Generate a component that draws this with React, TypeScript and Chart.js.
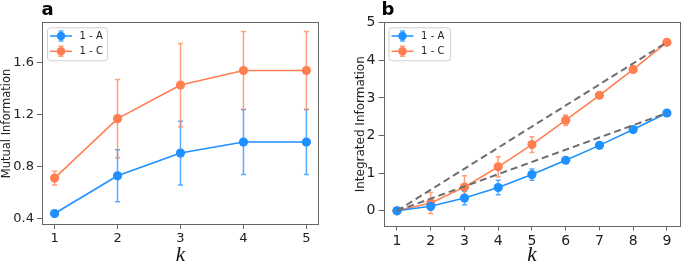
import React, { useEffect, useRef } from "react";
import { Chart, registerables } from "chart.js";
Chart.register(...registerables);

// ---- data ----
const kA = [1, 2, 3, 4, 5];
const miA = [0.44, 0.73, 0.905, 0.99, 0.99];
const miAErr = [0.01, 0.2, 0.245, 0.25, 0.25];
const miC = [0.713, 1.17, 1.428, 1.54, 1.54];
const miCErr = [0.053, 0.3, 0.32, 0.3, 0.3];
const miTicks = [0.4, 0.8, 1.2, 1.6];

const kB = [1, 2, 3, 4, 5, 6, 7, 8, 9];
const iiA = [0, 0.12, 0.34, 0.62, 0.965, 1.345, 1.74, 2.16, 2.6];
const iiAErr = [0.01, 0.1, 0.18, 0.19, 0.15, 0.06, 0.04, 0.03, 0.03];
const iiC = [0, 0.21, 0.63, 1.17, 1.76, 2.41, 3.07, 3.76, 4.48];
const iiCErr = [0.01, 0.28, 0.3, 0.27, 0.21, 0.14, 0.05, 0.04, 0.03];
const iiTicks = [0, 1, 2, 3, 4, 5];
const refC = [{ x: 1, y: 0 }, { x: 9, y: 4.48 }];
const refA = [{ x: 1, y: 0 }, { x: 9, y: 2.6 }];

const labelA = "1 - A";
const labelC = "1 - C";

const BLUE = "#1E90FF";
const ORANGE = "#FF7F50";
const FRAME = "#666666";
const FONT = "'DejaVu Sans', sans-serif";

function hexA(hex: string, a: number) {
  const n = parseInt(hex.slice(1), 16);
  return `rgba(${(n >> 16) & 255},${(n >> 8) & 255},${n & 255},${a})`;
}

const errorBarPlugin = {
  id: "errorBars",
  beforeDatasetsDraw(chart: any) {
    const { ctx } = chart;
    const ys = chart.scales.y;
    chart.data.datasets.forEach((ds: any, i: number) => {
      if (!ds.errors) return;
      const meta = chart.getDatasetMeta(i);
      ctx.save();
      ctx.strokeStyle = hexA(ds.borderColor, 0.75);
      ctx.lineWidth = 1.5;
      meta.data.forEach((pt: any, j: number) => {
        const v = ds.data[j].y;
        const e = ds.errors[j];
        const x = pt.x;
        const y1 = ys.getPixelForValue(v + e);
        const y2 = ys.getPixelForValue(v - e);
        ctx.beginPath();
        ctx.moveTo(x, y1);
        ctx.lineTo(x, y2);
        ctx.moveTo(x - 2.5, y1);
        ctx.lineTo(x + 2.5, y1);
        ctx.moveTo(x - 2.5, y2);
        ctx.lineTo(x + 2.5, y2);
        ctx.stroke();
      });
      ctx.restore();
    });
  },
};

const framePlugin = {
  id: "frame",
  afterDatasetsDraw(chart: any) {
    const { ctx, chartArea: a } = chart;
    ctx.save();
    ctx.strokeStyle = FRAME;
    ctx.lineWidth = 1;
    ctx.strokeRect(
      Math.round(a.left) + 0.5,
      Math.round(a.top) + 0.5,
      Math.round(a.right - a.left) - 1,
      Math.round(a.bottom - a.top) - 1
    );
    ctx.restore();
  },
};

function makeLegendPlugin(w: number) {
  return {
    id: "boxLegend",
    afterDraw(chart: any) {
      const { ctx, chartArea: a } = chart;
      const x0 = a.left + 5;
      const y0 = a.top + 5.3;
      const h = 33;
      ctx.save();
      ctx.beginPath();
      (ctx as any).roundRect(x0 + 0.5, y0 + 0.5, w, h, 3);
      ctx.fillStyle = "rgba(255,255,255,0.85)";
      ctx.fill();
      ctx.strokeStyle = "#d0d0d0";
      ctx.lineWidth = 1;
      ctx.stroke();
      const items = chart.data.datasets.filter((d: any) => d.inLegend);
      items.forEach((d: any, i: number) => {
        const cy = y0 + 8.7 + i * 15.3;
        const lx1 = x0 + 3;
        const lx2 = x0 + 25;
        const mx = (lx1 + lx2) / 2;
        ctx.strokeStyle = d.borderColor;
        ctx.lineWidth = 1.5;
        ctx.beginPath();
        ctx.moveTo(lx1, cy);
        ctx.lineTo(lx2, cy);
        ctx.stroke();
        ctx.strokeStyle = hexA(d.borderColor, 0.75);
        ctx.beginPath();
        ctx.moveTo(mx, cy - 5);
        ctx.lineTo(mx, cy + 5);
        ctx.moveTo(mx - 2.5, cy - 5);
        ctx.lineTo(mx + 2.5, cy - 5);
        ctx.moveTo(mx - 2.5, cy + 5);
        ctx.lineTo(mx + 2.5, cy + 5);
        ctx.stroke();
        ctx.fillStyle = d.borderColor;
        ctx.beginPath();
        ctx.arc(mx, cy, 4.3, 0, Math.PI * 2);
        ctx.fill();
        ctx.fillStyle = "#222";
        ctx.font = `10px ${FONT}`;
        ctx.textBaseline = "middle";
        ctx.textAlign = "left";
        ctx.fillText(d.label, x0 + 32.6, cy + 0.5);
      });
      ctx.restore();
    },
  };
}

function makePanelLabel(text: string, x: number, y: number) {
  return {
    id: "panelLabel",
    afterDraw(chart: any) {
      const { ctx } = chart;
      ctx.save();
      ctx.fillStyle = "#000";
      ctx.font = `bold 18px ${FONT}`;
      ctx.textBaseline = "alphabetic";
      ctx.textAlign = "left";
      ctx.fillText(text, x, y);
      ctx.restore();
    },
  };
}

function seriesDataset(label: string, xs: number[], ys: number[], errs: number[], color: string) {
  return {
    label,
    data: xs.map((x, i) => ({ x, y: ys[i] })),
    errors: errs,
    inLegend: true,
    borderColor: color,
    backgroundColor: color,
    borderWidth: 1.6,
    pointRadius: 4.6,
    pointBorderWidth: 0,
    pointBackgroundColor: color,
    showLine: true,
    fill: false,
    order: 1,
  };
}

function dashedDataset(label: string, pts: { x: number; y: number }[]) {
  return {
    label,
    data: pts,
    borderColor: "#6e6e6e",
    borderWidth: 2,
    borderDash: [7, 4],
    pointRadius: 0,
    showLine: true,
    fill: false,
    order: 0,
  };
}

function buildConfig(opts: {
  datasets: any[];
  xTicks: number[];
  xMin: number;
  xMax: number;
  yTicks: number[];
  yMin: number;
  yMax: number;
  yFmt: (v: number) => string;
  yTitle: string;
  yTitleSize: number;
  yTitlePad: number;
  tickSize: number;
  yAxisWidth: number;
  xAxisHeight: number;
  padRight: number;
  plugins: any[];
}) {
  return {
    type: "scatter",
    data: { datasets: opts.datasets },
    plugins: opts.plugins,
    options: {
      animation: false,
      responsive: false,
      maintainAspectRatio: false,
      layout: { padding: { top: 22, right: opts.padRight, left: 0, bottom: 0 } },
      plugins: { legend: { display: false }, tooltip: { enabled: false } },
      scales: {
        x: {
          type: "linear",
          min: opts.xMin,
          max: opts.xMax,
          afterBuildTicks: (s: any) => {
            s.ticks = opts.xTicks.map((v) => ({ value: v }));
          },
          afterFit: (s: any) => {
            s.height = opts.xAxisHeight;
          },
          grid: { drawOnChartArea: false, drawTicks: true, tickLength: 4, tickColor: FRAME },
          border: { display: false },
          ticks: {
            font: { family: FONT, size: opts.tickSize },
            color: "#222",
            padding: 2,
            maxRotation: 0,
            callback: (v: any) => String(v),
          },
          title: {
            display: true,
            text: "k",
            color: "#111",
            font: { family: "'Liberation Serif', serif", size: 21, style: "italic", lineHeight: 1 },
            padding: { top: 0, bottom: -1 },
          },
        },
        y: {
          type: "linear",
          min: opts.yMin,
          max: opts.yMax,
          afterBuildTicks: (s: any) => {
            s.ticks = opts.yTicks.map((v) => ({ value: v }));
          },
          afterFit: (s: any) => {
            s.width = opts.yAxisWidth;
          },
          grid: { drawOnChartArea: false, drawTicks: true, tickLength: 5, tickColor: FRAME },
          border: { display: false },
          ticks: {
            font: { family: FONT, size: opts.tickSize },
            color: "#222",
            padding: 3,
            callback: (v: any) => opts.yFmt(Number(v)),
          },
          title: {
            display: true,
            text: opts.yTitle,
            color: "#222",
            font: { family: FONT, size: opts.yTitleSize, lineHeight: 1.2 },
            padding: { top: opts.yTitlePad, bottom: 0 },
          },
        },
      },
    },
  };
}

export default function App() {
  const refA1 = useRef<HTMLCanvasElement>(null);
  const refB1 = useRef<HTMLCanvasElement>(null);

  useEffect(() => {
    const cfgA = buildConfig({
      datasets: [
        seriesDataset(labelA, kA, miA, miAErr, BLUE),
        seriesDataset(labelC, kA, miC, miCErr, ORANGE),
      ],
      xTicks: kA,
      xMin: 0.8,
      xMax: 5.2,
      yTicks: miTicks,
      yMin: 0.352,
      yMax: 1.913,
      yFmt: (v) => v.toFixed(1),
      yTitle: "Mutual Information",
      yTitleSize: 11.5,
      yTitlePad: 0,
      tickSize: 13,
      yAxisWidth: 42,
      xAxisHeight: 40,
      padRight: 21,
      plugins: [errorBarPlugin, framePlugin, makeLegendPlugin(60), makePanelLabel("a", 41.5, 15.3)],
    });
    const cfgB = buildConfig({
      datasets: [
        seriesDataset(labelA, kB, iiA, iiAErr, BLUE),
        seriesDataset(labelC, kB, iiC, iiCErr, ORANGE),
        dashedDataset("ref C", refC),
        dashedDataset("ref A", refA),
      ],
      xTicks: kB,
      xMin: 0.6,
      xMax: 9.4,
      yTicks: iiTicks,
      yMin: -0.417,
      yMax: 5.02,
      yFmt: (v) => String(v),
      yTitle: "Integrated Information",
      yTitleSize: 12,
      yTitlePad: 13.3,
      tickSize: 14,
      yAxisWidth: 43.5,
      xAxisHeight: 38.5,
      padRight: 3,
      plugins: [errorBarPlugin, framePlugin, makeLegendPlugin(61.7), makePanelLabel("b", 41.5, 14.5)],
    });
    const c1 = new Chart(refA1.current as HTMLCanvasElement, cfgA as any);
    const c2 = new Chart(refB1.current as HTMLCanvasElement, cfgB as any);
    return () => {
      c1.destroy();
      c2.destroy();
    };
  }, []);

  return (
    <div style={{ position: "absolute", left: 0, top: 0, width: 685, height: 265, background: "#fff" }}>
      <canvas ref={refA1} width={340} height={265} style={{ position: "absolute", left: 0, top: 0, width: 340, height: 265 }} />
      <canvas ref={refB1} width={345} height={265} style={{ position: "absolute", left: 340, top: 0, width: 345, height: 265 }} />
    </div>
  );
}
